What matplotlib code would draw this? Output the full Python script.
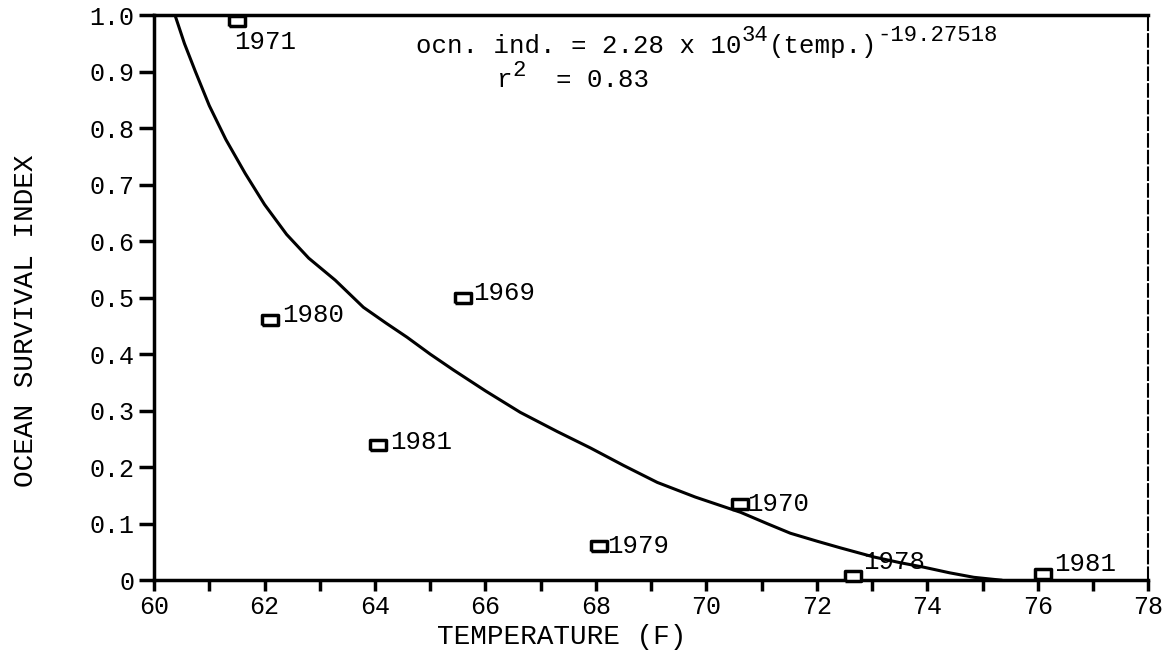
import numpy as np
import matplotlib.pyplot as plt

# points
years = ["1971", "1980", "1969", "1981", "1979", "1970", "1978", "1981"]
temp = [61.5, 62.1, 65.6, 64.05, 68.05, 70.6, 72.65, 76.1]
ocn = [0.99, 0.46, 0.50, 0.24, 0.06, 0.135, 0.007, 0.01]

# fitted curve
curve_t = [60.38, 60.55, 60.75, 61.0, 61.3, 61.65, 62.0, 62.4, 62.8, 63.28,
           63.79, 64.2, 64.58, 65.0, 65.42, 66.0, 66.63, 67.3, 67.9, 68.5,
           69.11, 69.8, 70.62, 71.1, 71.52, 72.0, 72.43, 73.03, 73.5, 73.93,
           74.4, 74.84, 75.33]
curve_y = [1.0, 0.95, 0.9, 0.84, 0.78, 0.72, 0.665, 0.612, 0.57, 0.531,
           0.483, 0.455, 0.43, 0.40, 0.372, 0.335, 0.297, 0.263, 0.234, 0.203,
           0.173, 0.147, 0.12, 0.1, 0.083, 0.069, 0.057, 0.041, 0.031, 0.023,
           0.013, 0.005, 0.0]

xticks = np.arange(60, 79, 1)
xlabels = [str(t) if t % 2 == 0 else "" for t in xticks]
yticks = np.arange(0, 1.01, 0.1)
ylabels = ["0"] + ["%.1f" % v for v in yticks[1:]]

# label offsets in pixels
offsets = [(-3, -21), (12, 5), (10, 5), (12, 3), (8, 0), (8, 0), (10, 14), (11, 10)]

plt.rcParams['font.family'] = ['Liberation Mono', 'DejaVu Sans Mono']

fig = plt.figure(figsize=(11.67, 6.63), dpi=100)
ax = fig.add_axes([0.132, 0.125, 0.852, 0.852])

ax.plot(curve_t, curve_y, color="black", lw=2.2, solid_joinstyle="round")

box = [(-1.4, -1), (1.4, -1), (1.4, 1), (-1.4, 1), (-1.4, -1)]
ax.plot(temp, ocn, linestyle="none", marker=box, markersize=11, mfc="white",
        mec="black", mew=2.5, clip_on=False, zorder=3)

for i in range(len(years)):
    dx, dy = offsets[i]
    ax.annotate(years[i], (temp[i], ocn[i]), xytext=(dx, dy), textcoords="offset pixels",
                ha="left", va="center", fontsize=18.5)

# equation, typed in pieces so the raised parts stay near full size
fs = 18.5
t1 = ax.text(64.75, 0.925, "ocn. ind. = 2.28 x 10", fontsize=fs, ha="left", va="bottom")
t2 = ax.annotate("34", xy=(1, 0.5), xycoords=t1, fontsize=16, ha="left", va="bottom")
t3 = ax.annotate("(temp.)", xy=(1, 0), xycoords=(t2, t1), fontsize=fs, ha="left", va="bottom")
t4 = ax.annotate("-19.27518", xy=(1, 0.5), xycoords=(t3, t1), fontsize=16, ha="left", va="bottom")

r1 = ax.text(66.2, 0.864, "r", fontsize=fs, ha="left", va="bottom")
r2 = ax.annotate("2", xy=(1, 0.45), xycoords=r1, fontsize=16, ha="left", va="bottom")
r3 = ax.annotate("  = 0.83", xy=(1, 0), xycoords=(r2, r1), fontsize=fs, ha="left", va="bottom")

ax.set_xlim(60, 78)
ax.set_ylim(0, 1.0)
ax.set_xticks(xticks)
ax.set_xticklabels(xlabels, fontsize=18)
ax.set_yticks(yticks)
ax.set_yticklabels(ylabels, fontsize=18)
ax.tick_params(axis="x", direction="out", length=8, width=2.5, pad=3)
ax.tick_params(axis="y", direction="out", length=11, width=2.5, pad=3)

for s in ["left", "bottom", "top"]:
    ax.spines[s].set_linewidth(2.5)
ax.spines["right"].set_linewidth(1.5)
ax.spines["right"].set_linestyle((0, (6, 2)))

ax.set_xlabel("TEMPERATURE (F)", fontsize=20)
ax.set_ylabel("OCEAN SURVIVAL INDEX", fontsize=20)
ax.xaxis.set_label_coords((562 - 154) / 994, -(637 - 580) / 565)
ax.yaxis.set_label_coords(-(154 - 26) / 994, (580 - 321) / 565)
ax.xaxis.label.set_va("center")
ax.yaxis.label.set_va("center")

fig.savefig("out.png", dpi=100)
